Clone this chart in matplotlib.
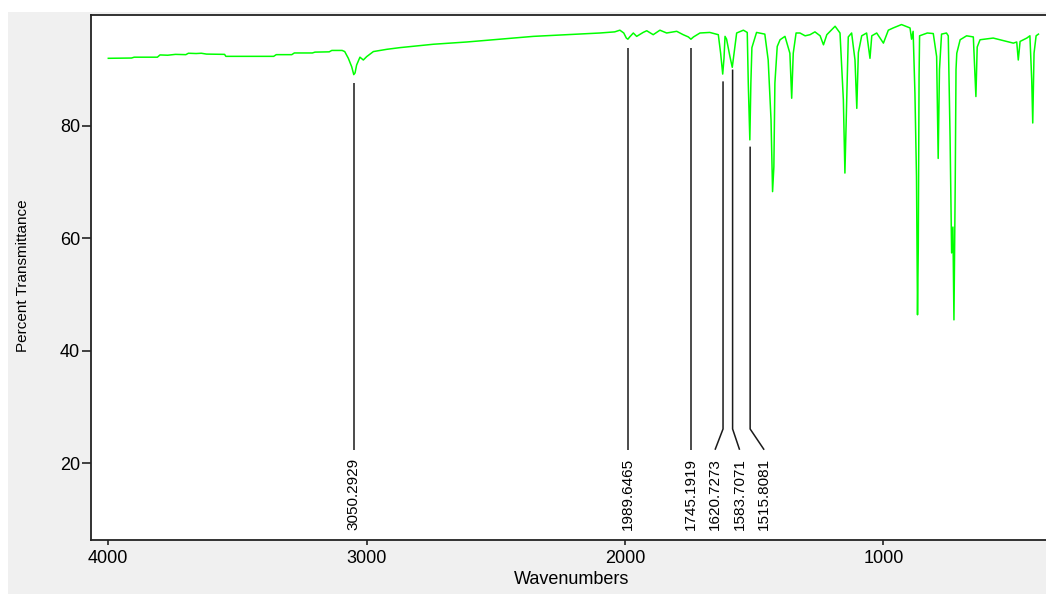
import matplotlib
matplotlib.use("Agg")
import matplotlib.pyplot as plt
from matplotlib.patches import Rectangle
from matplotlib.transforms import offset_copy
import numpy as np

plt.rcParams['font.family'] = ['Liberation Sans', 'DejaVu Sans']

# ---------------- data ----------------
wavenumber = [4000, 3910, 3900, 3810, 3800, 3770, 3740, 3700, 3690, 3660, 3640, 3620,
              3550, 3545, 3360, 3350, 3290, 3280, 3210, 3200, 3145, 3135, 3095, 3085,
              3071, 3058, 3050, 3045, 3039, 3026, 3013, 3000, 2974, 2922, 2871, 2742,
              2613, 2484, 2355, 2226, 2097, 2040, 2020, 2005, 1995, 1989, 1982, 1968,
              1955, 1930, 1916, 1891, 1865, 1839, 1800, 1775, 1755, 1745, 1735, 1710,
              1672, 1639, 1630, 1622, 1617, 1613, 1607, 1594, 1585, 1577, 1568, 1542,
              1527, 1523, 1517, 1513, 1509, 1491, 1459, 1446, 1435, 1429, 1424, 1420,
              1411, 1400, 1381, 1362, 1355, 1349, 1338, 1323, 1303, 1284, 1265, 1245,
              1232, 1219, 1187, 1168, 1155, 1149, 1142, 1136, 1123, 1110, 1103, 1097,
              1084, 1065, 1052, 1045, 1026, 1000, 981, 962, 930, 897, 891, 885,
              878, 872, 868, 865, 862, 860, 830, 807, 794, 788, 783, 775,
              756, 749, 742, 736, 731, 727, 722, 719, 716, 703, 678, 652,
              642, 637, 626, 575, 523, 497, 484, 478, 471, 445, 433, 426,
              422, 417, 409, 400]
transmittance = [92.0, 92.05, 92.2, 92.2, 92.6, 92.55, 92.7, 92.65, 92.9, 92.85, 92.9, 92.75,
                 92.7, 92.35, 92.35, 92.65, 92.65, 92.95, 92.95, 93.1, 93.15, 93.4, 93.4, 93.2,
                 92.0, 90.5, 89.1, 89.4, 90.8, 92.2, 91.7, 92.3, 93.2, 93.6, 93.9, 94.5,
                 94.9, 95.4, 95.9, 96.2, 96.5, 96.7, 97.0, 96.5, 95.6, 95.4, 95.8, 96.5,
                 95.9, 96.6, 96.9, 96.2, 97.0, 96.5, 96.8, 96.2, 95.8, 95.4, 95.8, 96.5,
                 96.6, 96.2, 92.9, 89.2, 92.0, 95.9, 95.4, 92.3, 90.4, 93.2, 96.5, 97.0,
                 96.6, 87.5, 77.5, 87.6, 93.9, 96.6, 96.3, 91.7, 81.1, 68.3, 72.7, 87.6,
                 94.1, 95.3, 95.9, 92.9, 84.9, 92.9, 96.5, 96.5, 96.0, 96.2, 96.7, 96.0,
                 94.4, 96.2, 97.7, 96.5, 84.6, 71.6, 84.6, 95.8, 96.5, 91.7, 83.1, 93.0,
                 96.0, 96.5, 92.0, 96.0, 96.5, 94.7, 97.0, 97.4, 98.0, 97.4, 95.4, 96.8,
                 85.8, 71.0, 46.4, 58.5, 88.8, 96.0, 96.5, 96.4, 92.3, 74.2, 90.0, 96.3,
                 96.5, 96.0, 78.0, 57.4, 62.0, 45.5, 70.0, 90.0, 92.9, 95.3, 96.0, 95.8,
                 85.2, 94.0, 95.3, 95.6, 95.0, 94.7, 94.9, 91.7, 95.0, 95.6, 96.0, 88.2,
                 80.5, 92.9, 96.0, 96.3]

peak_labels = ["3050.2929", "1989.6465", "1745.1919", "1620.7273", "1583.7071", "1515.8081"]
peak_wavenumber = [3050.2929, 1989.6465, 1745.1919, 1620.7273, 1583.7071, 1515.8081]
peak_line_top = [87.6, 93.9, 93.9, 87.9, 90.0, 76.3]

x_ticks = [4000, 3000, 2000, 1000]
y_ticks = [20, 40, 60, 80]

# ---------------- styling / layout ----------------
label_shift_px = [0, 0, 0, -8, 7, 14]   # leader-line splay of crowded labels
W, H = 1046, 594
fig = plt.figure(figsize=(W / 100, H / 100), dpi=100, facecolor='white')
fig.patches.append(Rectangle((8 / W, 0), 1 - 8 / W, (H - 12) / H, transform=fig.transFigure,
                             facecolor='#f0f0f0', edgecolor='none', zorder=-10))

ax = fig.add_axes([91 / W, (H - 540) / H, (W - 91) / W, (540 - 15) / H])
ax.set_facecolor('white')
ax.plot(wavenumber, transmittance, color='#00ff00', lw=1.1, zorder=3)
ax.set_xlim(4067, 370.7)
ax.set_ylim(6.36, 99.7)

for s in ['left', 'bottom', 'top']:
    ax.spines[s].set_color('#222222')
    ax.spines[s].set_linewidth(1.3)
ax.spines['right'].set_visible(False)

ax.set_xticks(x_ticks)
ax.set_xticklabels([str(t) for t in x_ticks])
ax.set_yticks(y_ticks)
ax.set_yticklabels([str(t) for t in y_ticks])
ax.tick_params(axis='y', length=6.5, width=1.2, pad=1.5, labelsize=13, color='#222222')
ax.tick_params(axis='x', length=3.6, width=1.2, pad=3.5, labelsize=13, color='#222222')

# peak annotations (leader line: vertical, then a short diagonal to the shifted label)
y_kink, y_end, y_text = 26.1, 22.4, 21.0
fig.canvas.draw()
for lab, wn, top, sh in zip(peak_labels, peak_wavenumber, peak_line_top, label_shift_px):
    tr_shift = offset_copy(ax.transData, fig=fig, x=sh, y=0, units='dots')
    pa = ax.transData.transform((wn, top))
    pk = ax.transData.transform((wn, y_kink))
    pe = tr_shift.transform((wn, y_end))
    ax.plot([pa[0], pk[0], pe[0]], [pa[1], pk[1], pe[1]], color='#1a1a1a', lw=1.1,
            transform=None, zorder=2, solid_joinstyle='miter', solid_capstyle='butt')
    ax.text(wn, y_text, lab, transform=tr_shift, rotation=90, ha='center', va='top',
            fontsize=11, color='black')

fig.text(572 / W, 1 - 579 / H, 'Wavenumbers', ha='center', va='center', fontsize=13)
fig.text(23 / W, 1 - 276 / H, 'Percent Transmittance', ha='center', va='center',
         rotation=90, fontsize=11)

fig.savefig('out.png', dpi=100, facecolor=fig.get_facecolor())
